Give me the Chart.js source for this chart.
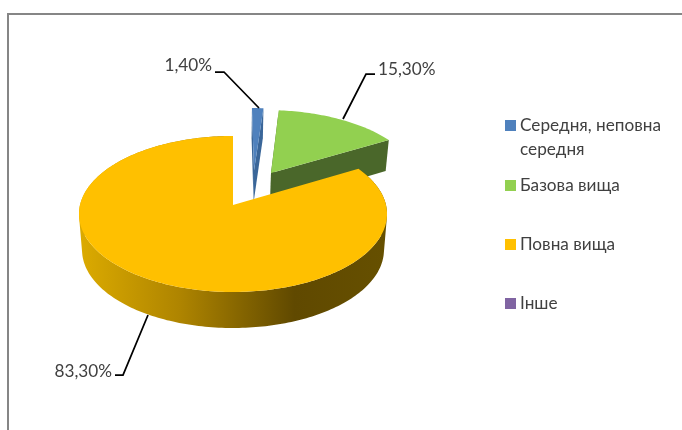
<!DOCTYPE html>
<html lang="uk">
<head>
<meta charset="utf-8">
<title>Pie</title>
<script src="https://cdn.jsdelivr.net/npm/chart.js@4"></script>
<style>html,body{margin:0;padding:0;background:#fff}canvas{display:block}</style>
</head>
<body>
<canvas id="c" width="682" height="430"></canvas>
<script>
const categories = ['Середня, неповна середня', 'Базова вища', 'Повна вища', 'Інше'];
const legendLines = [['Середня, неповна', 'середня'], ['Базова вища'], ['Повна вища'], ['Інше']];
const shares = [1.4, 15.3, 83.3, 0];
const valueLabels = ['1,40%', '15,30%', '83,30%', ''];
const topColors = ['#4F81BD', '#92D050', '#FFC000', '#8064A2'];
const wallColors = ['#3A6699', '#4A672A', '#FFC000', '#604A7B'];

const FONT = '17.2px Lato, "Open Sans", sans-serif';
const TEXT = '#404040';
// ground-plane explosion of each slice (unit-circle coordinates)
const explode = [[0.145, -0.475], [0.261, -0.437], [0, 0], [0, 0]];
// leader lines: label text anchor, elbow, end
const leaders = [
  {tx: 212, ty: 65.5, align: 'right', pts: [[215, 72], [224, 72], [259, 108]]},
  {tx: 378, ty: 69, align: 'left', pts: [[375, 74], [366, 74], [343, 119]]},
  {tx: 112, ty: 371, align: 'right', pts: [[115, 375], [123, 375], [148, 315]]}
];
const CX = 233, CY = 205, R = 153, S = 76.96, K = 0.1154;

function topPt(u, v) {
  const d = 1 - K * v;
  return [CX + R * u / d, CY + S * v / d];
}
// lower face of the separated back slices
function botPt(u, v) {
  const d = 1 - K * v;
  return [CX + 0.98 * R * u / d, CY + 33 / d + 0.98 * S * v / d];
}
// lower face of the large front slice
function botFront(u, v) {
  const d = 1 - K * v;
  return [CX + 0.98 * R * u / d, CY + 36 / d + 0.946 * S * v / d];
}
function rim(a0, a1, off, fn) {
  const pts = [], n = Math.max(2, Math.ceil((a1 - a0) / 0.02));
  for (let i = 0; i <= n; i++) {
    const t = a0 + (a1 - a0) * i / n;
    pts.push(fn(off[0] + Math.sin(t), off[1] - Math.cos(t)));
  }
  return pts;
}
function fillPoly(ctx, pts, fill) {
  ctx.beginPath();
  pts.forEach((p, i) => i ? ctx.lineTo(p[0], p[1]) : ctx.moveTo(p[0], p[1]));
  ctx.closePath();
  ctx.fillStyle = fill;
  ctx.fill();
}
// the side wall as one path of quads swept from the upper rim to the lower rim,
// each wound the same way so overlapping quads never cancel under the nonzero rule
function fillSweep(ctx, tRim, bRim, fill) {
  ctx.beginPath();
  for (let i = 0; i < tRim.length - 1; i++) {
    const q = [tRim[i], tRim[i + 1], bRim[i + 1], bRim[i]];
    let area = 0;
    q.forEach((p, j) => {
      const n = q[(j + 1) % 4];
      area += p[0] * n[1] - n[0] * p[1];
    });
    if (area < 0) q.reverse();
    q.forEach((p, j) => j ? ctx.lineTo(p[0], p[1]) : ctx.moveTo(p[0], p[1]));
    ctx.closePath();
  }
  ctx.fillStyle = fill;
  ctx.fill();
}

const pie3d = {
  id: 'pie3d',
  beforeDraw(chart) {
    const ctx = chart.ctx;
    ctx.save();
    ctx.strokeStyle = '#868686';
    ctx.lineWidth = 2;
    ctx.beginPath();
    ctx.moveTo(8, 430);
    ctx.lineTo(8, 14);
    ctx.lineTo(682, 14);
    ctx.stroke();
    ctx.restore();
  },
  beforeDatasetDraw(chart, args) {
    const ctx = chart.ctx;
    ctx.save();
    args.meta.data.forEach((arc, i) => {
      if (arc.circumference <= 0) return;
      const a0 = arc.startAngle + Math.PI / 2, a1 = arc.endAngle + Math.PI / 2;
      const off = explode[i];
      const tRim = rim(a0, a1, off, topPt);
      const apexT = topPt(off[0], off[1]);
      if (i === 2) {
        const bRim = rim(a0, a1, off, botFront);
        const g = ctx.createLinearGradient(79, 0, 387, 0);
        g.addColorStop(0, '#DCAB00');
        g.addColorStop(0.33, '#AE8400');
        g.addColorStop(0.7, '#604900');
        g.addColorStop(1, '#665000');
        fillSweep(ctx, tRim, bRim, g);
      } else {
        const bRim = rim(a0, a1, off, botPt);
        const apexB = botPt(off[0], off[1]);
        fillPoly(ctx, [apexT, tRim[tRim.length - 1], bRim[bRim.length - 1], apexB], wallColors[i]);
        fillPoly(ctx, [apexT, tRim[0], bRim[0], apexB], wallColors[i]);
      }
      fillPoly(ctx, [apexT].concat(tRim), topColors[i]);
    });
    ctx.restore();
    return false;
  },
  afterDatasetsDraw(chart) {
    const ctx = chart.ctx;
    ctx.save();
    ctx.font = FONT;
    ctx.textBaseline = 'middle';
    leaders.forEach((l, i) => {
      ctx.strokeStyle = '#000';
      ctx.lineWidth = 1.75;
      ctx.beginPath();
      l.pts.forEach((p, j) => j ? ctx.lineTo(p[0], p[1]) : ctx.moveTo(p[0], p[1]));
      ctx.stroke();
      ctx.fillStyle = TEXT;
      ctx.textAlign = l.align;
      ctx.fillText(valueLabels[i], l.tx, l.ty);
    });
    // legend
    ctx.textAlign = 'left';
    const rows = [125.5, 185.5, 244.5, 303.5];
    legendLines.forEach((lines, i) => {
      ctx.fillStyle = topColors[i];
      ctx.fillRect(505, rows[i] - 5.5, 11, 11);
      ctx.fillStyle = TEXT;
      lines.forEach((t, j) => ctx.fillText(t, 520, rows[i] + j * 23.5));
    });
    ctx.restore();
  }
};

new Chart(document.getElementById('c'), {
  type: 'pie',
  data: {
    labels: categories,
    datasets: [{data: shares, backgroundColor: topColors, borderWidth: 0}]
  },
  options: {
    responsive: false,
    animation: false,
    plugins: {legend: {display: false}, tooltip: {enabled: false}}
  },
  plugins: [pie3d]
});
</script>
</body>
</html>
